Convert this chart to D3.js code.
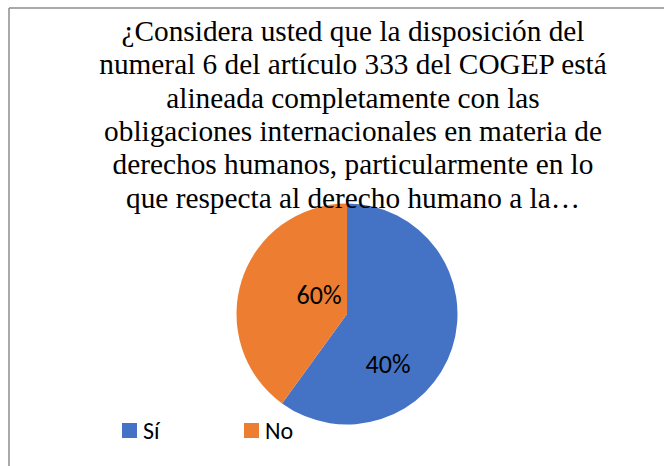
<!DOCTYPE html>
<html>
<head>
<meta charset="utf-8">
<script src="https://d3js.org/d3.v7.min.js"></script>
<style>
  body { margin: 0; background: white; }
  svg { display: block; }
</style>
</head>
<body>
<svg id="chart" width="664" height="466"></svg>
<script>
// answers and their share of the pie
const categories = ["Sí", "No"];
const values = [60, 40];
// labels as printed on the slices
const sliceLabels = ["40%", "60%"];
const colors = ["#4472C4", "#ED7D31"];

const titleLines = [
  "¿Considera usted que la disposición del",
  "numeral 6 del artículo 333 del COGEP está",
  "alineada completamente con las",
  "obligaciones internacionales en materia de",
  "derechos humanos, particularmente en lo",
  "que respecta al derecho humano a la…"
];

const svg = d3.select("#chart");
const bodyFont = "Carlito, 'Liberation Sans Narrow', 'DejaVu Sans Condensed', sans-serif";

// frame (only top and left edges show in the picture)
svg.append("line").attr("x1", 9).attr("y1", 8).attr("x2", 664).attr("y2", 8)
  .attr("stroke", "#8c8c8c").attr("stroke-width", 1.5);
svg.append("line").attr("x1", 9).attr("y1", 8).attr("x2", 9).attr("y2", 466)
  .attr("stroke", "#8c8c8c").attr("stroke-width", 1.5);

// pie
const cx = 347, cy = 314, r = 110.5;
const pie = d3.pie().sort(null).value(d => d)(values);
const arc = d3.arc().innerRadius(0).outerRadius(r);
// the labels were moved by hand in the original, so place them where they sit
const labelOffsets = [[41, 50], [-28, -19]];

const g = svg.append("g").attr("transform", `translate(${cx},${cy})`);
g.selectAll("path")
  .data(pie)
  .enter()
  .append("path")
    .attr("d", arc)
    .attr("fill", (d, i) => colors[i]);

g.selectAll("text.lbl")
  .data(pie)
  .enter()
  .append("text")
    .attr("class", "lbl")
    .attr("transform", (d, i) => `translate(${labelOffsets[i]})`)
    .attr("text-anchor", "middle")
    .attr("dy", "0.35em")
    .attr("font-family", bodyFont)
    .attr("font-size", 26)
    .attr("fill", "#000")
    .text((d, i) => sliceLabels[i]);

// title drawn after the pie so it sits on top
svg.append("g")
  .selectAll("text")
  .data(titleLines)
  .enter()
  .append("text")
    .attr("x", 353)
    .attr("y", (d, i) => 41 + i * 33.3)
    .attr("text-anchor", "middle")
    .attr("font-family", "'Liberation Serif', 'Times New Roman', serif")
    .attr("font-size", 29.3)
    .attr("fill", "#000")
    .text(d => d);

// legend
const legend = svg.append("g").attr("transform", "translate(122,423)");
const item = legend.selectAll("g")
  .data(categories)
  .enter()
  .append("g")
    .attr("transform", (d, i) => `translate(${i * 122},0)`);
item.append("rect").attr("width", 15).attr("height", 15)
  .attr("fill", (d, i) => colors[i]);
item.append("text")
  .attr("x", 21).attr("y", 15.5)
  .attr("font-family", bodyFont)
  .attr("font-size", 24)
  .attr("fill", "#000")
  .text(d => d);
</script>
</body>
</html>
